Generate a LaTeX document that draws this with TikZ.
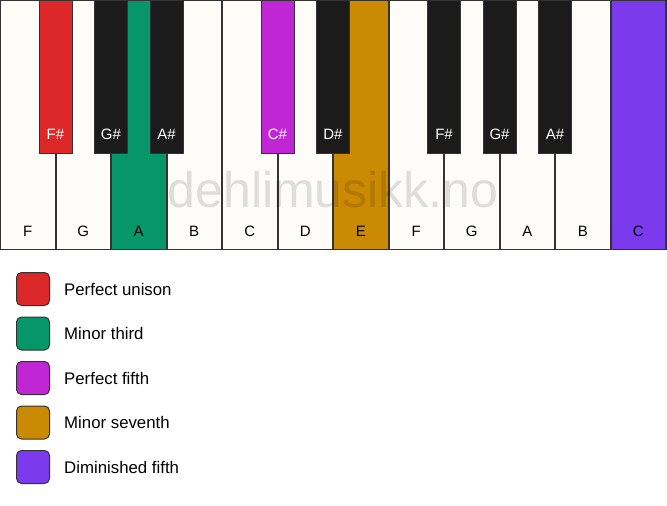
\documentclass[tikz,border=0pt]{standalone}
\usepackage{fontspec}
\setmainfont{Liberation Sans}
\definecolor{keywhite}{HTML}{FDFCF9}
\definecolor{keyblack}{HTML}{1B1B1B}
\definecolor{cred}{HTML}{DC2828}
\definecolor{cgreen}{HTML}{06966A}
\definecolor{cmag}{HTML}{C026D3}
\definecolor{corange}{HTML}{CA8A04}
\definecolor{cviolet}{HTML}{7C3AED}
\definecolor{edge}{HTML}{333333}
\begin{document}
\begin{tikzpicture}[x=1pt,y=-1pt,
  whitekey/.style={draw=edge,line width=1.2pt,fill=keywhite},
  blackkey/.style={draw=edge,line width=1pt,fill=keyblack},
  wlabel/.style={font=\fontsize{15}{15}\selectfont,text=black,anchor=base},
  blabel/.style={font=\fontsize{15}{15}\selectfont,text=white,anchor=base},
  legbox/.style={draw=edge,line width=1pt,rounded corners=5pt,minimum width=33pt,minimum height=33pt,inner sep=0pt},
  legtext/.style={font=\fontsize{16.8}{16.8}\selectfont,anchor=base west,inner sep=0pt}]
\path[use as bounding box,fill=white] (0,0) rectangle (667,506);
% white keys
\def\w{55.5}
\foreach \i/\n/\c in {0/F/keywhite,1/G/keywhite,2/A/cgreen,3/B/keywhite,4/C/keywhite,5/D/keywhite,6/E/corange,7/F/keywhite,8/G/keywhite,9/A/keywhite,10/B/keywhite,11/C/cviolet}{
  \draw[whitekey,fill=\c] (\i*\w+0.6,0.6) rectangle ({(\i+1)*\w},249.5);
  \node[wlabel] (w\i) at ({(\i+0.5)*\w},236) {\n};
}
% watermark
\node[font=\fontsize{50}{50}\selectfont,text=black,text opacity=0.12,anchor=base] (wm) at (333,207) {dehlimusikk.no};
% black keys
\foreach \i/\n/\c in {1/F\#/cred,2/G\#/keyblack,3/A\#/keyblack,5/C\#/cmag,6/D\#/keyblack,8/F\#/keyblack,9/G\#/keyblack,10/A\#/keyblack}{
  \draw[blackkey,fill=\c] ({\i*\w-16.5},0.6) rectangle ({\i*\w+16.5},153);
  \node[blabel] (b\i) at ({\i*\w},139) {\n};
}
% legend
\foreach \k/\c/\t in {0/cred/Perfect unison,1/cgreen/Minor third,2/cmag/Perfect fifth,3/corange/Minor seventh,4/cviolet/Diminished fifth}{
  \node[legbox,fill=\c] (lb\k) at (33,{289+44.5*\k}) {};
  \node[legtext] (lt\k) at (64,{295+44.5*\k}) {\t};
}
\end{tikzpicture}
\end{document}
